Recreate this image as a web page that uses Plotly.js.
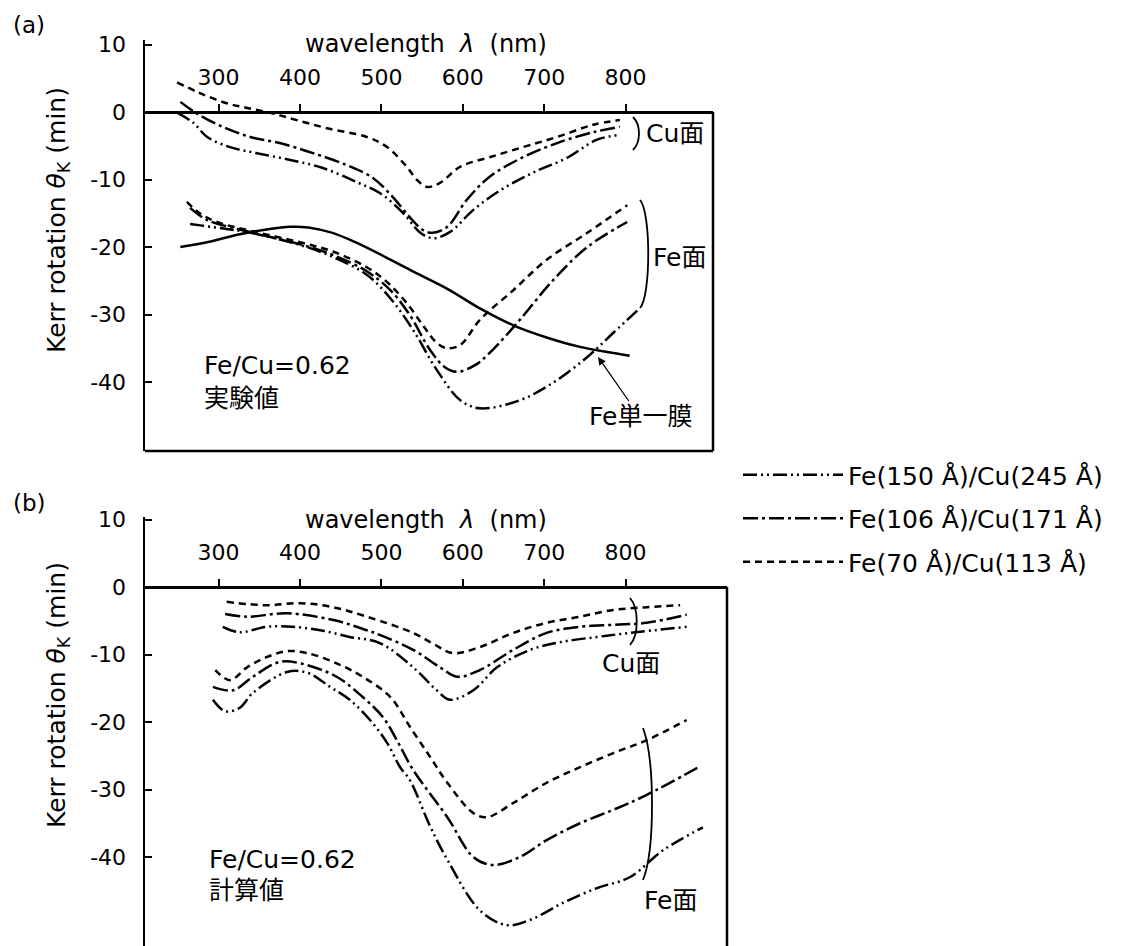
<!DOCTYPE html>
<html><head><meta charset="utf-8">
<script src="https://cdn.plot.ly/plotly-3.0.1.min.js"></script>
<style>html,body{margin:0;padding:0;background:#fff;}#chart{width:1140px;height:946px;}</style>
</head><body><div id="chart"></div>
<script>
// ---------- tick labels ----------
const wlTicks = [300, 400, 500, 600, 700, 800];
const kTickVals = [10, 0, -10, -20, -30, -40];
const kTickText = ['10', '0', '-10', '-20', '-30', '-40'];

// ---------- series names ----------
const nameFe150 = 'Fe(150 Å)/Cu(245 Å)';
const nameFe106 = 'Fe(106 Å)/Cu(171 Å)';
const nameFe70  = 'Fe(70 Å)/Cu(113 Å)';

// ---------- (a) experimental ----------
// Cu side
const aCu70wl  = [249, 277, 310, 335, 366, 396, 433, 482, 507, 531, 544, 556, 572, 597, 633, 674, 716, 760, 793];
const aCu70k   = [4.4, 2.8, 1.3, 0.6, -0.2, -1.2, -2.4, -3.7, -5.2, -8.1, -10.1, -11.1, -10.5, -8.1, -6.7, -5.2, -3.7, -1.9, -1.2];
const aCu106wl = [253, 273, 305, 339, 375, 416, 458, 490, 514, 535, 551, 563, 581, 605, 633, 674, 716, 760, 793];
const aCu106k  = [1.5, -0.2, -2.2, -3.7, -4.6, -6.1, -7.9, -9.8, -12.6, -15.6, -17.5, -17.9, -17.0, -13.0, -9.6, -6.7, -4.6, -3.0, -2.2];
const aCu150wl = [249, 269, 286, 314, 347, 388, 428, 470, 498, 527, 547, 563, 584, 613, 646, 686, 728, 765, 793];
const aCu150k  = [-0.1, -1.6, -3.7, -5.2, -6.1, -7.1, -8.3, -10.4, -12.0, -15.0, -17.8, -18.7, -17.8, -14.5, -11.6, -9.0, -6.8, -4.1, -3.4];
// Fe side
const aFe70wl  = [261, 277, 298, 339, 400, 441, 482, 507, 531, 551, 568, 581, 597, 621, 662, 703, 753, 802];
const aFe70k   = [-13.3, -15.0, -16.3, -17.6, -19.3, -20.7, -23.0, -25.2, -28.3, -31.6, -34.2, -35.0, -34.5, -30.8, -26.4, -21.9, -17.9, -13.8];
const aFe106wl = [265, 286, 339, 400, 441, 482, 511, 535, 560, 578, 593, 615, 633, 670, 711, 753, 802];
const aFe106k  = [-14.2, -16.0, -17.8, -19.6, -21.2, -23.6, -26.4, -30.1, -35.3, -37.8, -38.5, -37.5, -35.7, -30.8, -24.9, -20.0, -16.3];
const aFe150wl = [265, 302, 339, 400, 441, 482, 511, 539, 568, 597, 621, 670, 711, 753, 785, 818];
const aFe150k  = [-16.6, -17.2, -17.9, -19.7, -21.5, -24.1, -27.6, -32.3, -38.2, -42.7, -43.9, -42.7, -40.1, -36.3, -32.7, -29.0];
// Fe single film
const aFeSingleWl = [253, 293, 326, 359, 388, 410, 440, 470, 505, 540, 581, 621, 662, 703, 744, 785, 805];
const aFeSingleK  = [-20.0, -19.1, -18.1, -17.4, -17.0, -17.1, -17.9, -19.4, -21.5, -23.7, -26.2, -29.1, -31.6, -33.4, -34.8, -35.7, -36.1];

// ---------- (b) calculated ----------
const bCu70wl  = [310, 359, 400, 441, 482, 539, 565, 588, 621, 662, 703, 744, 785, 826, 867];
const bCu70k   = [-2.2, -2.7, -2.4, -3.0, -4.4, -6.8, -8.5, -9.8, -8.9, -6.8, -5.3, -4.4, -3.4, -3.0, -2.7];
const bCu106wl = [308, 335, 384, 441, 482, 498, 539, 572, 593, 621, 662, 703, 744, 785, 826, 875];
const bCu106k  = [-4.0, -4.4, -3.9, -4.9, -6.4, -7.1, -9.3, -11.9, -13.3, -12.3, -9.3, -6.8, -5.9, -5.6, -5.3, -4.1];
const bCu150wl = [305, 326, 359, 391, 425, 461, 498, 539, 568, 584, 613, 642, 683, 723, 765, 805, 875];
const bCu150k  = [-5.9, -6.7, -5.9, -5.9, -6.4, -7.4, -8.3, -11.9, -15.3, -16.7, -15.3, -11.9, -9.3, -8.1, -7.4, -6.8, -5.9];
const bFe70wl  = [296, 314, 335, 359, 384, 409, 445, 477, 511, 535, 560, 581, 613, 630, 662, 703, 744, 785, 826, 875];
const bFe70k   = [-12.3, -13.8, -11.9, -10.4, -9.5, -9.8, -11.3, -13.3, -16.3, -20.7, -25.2, -29.0, -33.5, -34.1, -32.0, -29.0, -26.7, -24.6, -22.7, -19.7];
const bFe106wl = [293, 318, 342, 375, 400, 445, 477, 502, 519, 539, 581, 613, 637, 670, 703, 744, 785, 826, 888];
const bFe106k  = [-14.8, -15.3, -13.3, -11.1, -11.3, -13.3, -16.3, -19.3, -22.7, -27.1, -34.1, -40.0, -41.2, -40.0, -37.5, -35.0, -33.0, -30.8, -26.8];
const bFe150wl = [293, 308, 326, 342, 384, 409, 437, 461, 486, 507, 523, 535, 560, 581, 621, 654, 683, 723, 765, 805, 846, 895];
const bFe150k  = [-16.7, -18.4, -17.9, -15.7, -12.6, -12.7, -14.8, -16.7, -19.7, -23.1, -26.7, -28.6, -35.5, -40.4, -47.9, -50.1, -49.3, -46.8, -44.6, -43.0, -39.0, -35.6];

// ---------- styling ----------
const W = 1140, H = 946;
const fx = p => p / W;
const fy = p => 1 - p / H;
const FONT = 'DejaVu Sans, Noto Sans CJK JP, sans-serif';
const LW = 2.5;
const dash150 = '14px,4px,2px,4px,2px,4px';
const dash106 = '15px,4px,3px,4px';
const dash70  = '7px,5px';

function join(wl1, k1, wl2, k2) {
  return { x: wl1.concat([null], wl2), y: k1.concat([null], k2) };
}
function tr(d, xa, ya, name, dash, rank, show) {
  return {
    type: 'scatter', mode: 'lines', x: d.x, y: d.y, xaxis: xa, yaxis: ya,
    name: name, legendgroup: name, legendrank: rank, showlegend: show,
    connectgaps: false,
    line: { color: '#000', width: LW, dash: dash, shape: 'spline', smoothing: 1 },
    hoverinfo: 'skip'
  };
}

const traces = [
  tr(join(aCu150wl, aCu150k, aFe150wl, aFe150k), 'x', 'y', nameFe150, dash150, 1, false),
  tr(join(aCu106wl, aCu106k, aFe106wl, aFe106k), 'x', 'y', nameFe106, dash106, 2, false),
  tr(join(aCu70wl, aCu70k, aFe70wl, aFe70k), 'x', 'y', nameFe70, dash70, 3, false),
  { type: 'scatter', mode: 'lines', x: aFeSingleWl, y: aFeSingleK, xaxis: 'x', yaxis: 'y',
    showlegend: false, line: { color: '#000', width: LW, shape: 'spline', smoothing: 1 }, hoverinfo: 'skip' },
  tr(join(bCu150wl, bCu150k, bFe150wl, bFe150k), 'x2', 'y2', nameFe150, dash150, 1, true),
  tr(join(bCu106wl, bCu106k, bFe106wl, bFe106k), 'x2', 'y2', nameFe106, dash106, 2, true),
  tr(join(bCu70wl, bCu70k, bFe70wl, bFe70k), 'x2', 'y2', nameFe70, dash70, 3, true)
];

// geometry (pixels)
const SCALE = 6.75;           // px per minute
const plotL = 145;
const aTop = 40, aZero = 112, aBot = 451, aRight = 713;
const bTop = 517, bZero = 587, bBot = 946, bRight = 727;
const wlAt = p => 400 + (p - 300) / 0.814;

function xAxis(right, zeroPx) {
  return {
    domain: [fx(plotL), fx(right)], range: [wlAt(plotL), wlAt(right)],
    anchor: 'free', position: fy(zeroPx), side: 'top',
    tickmode: 'array', tickvals: wlTicks, ticktext: wlTicks.map(String),
    ticks: 'outside', ticklen: 7, tickwidth: 2, tickcolor: '#000',
    showline: true, linecolor: '#000', linewidth: 2.5,
    showgrid: false, zeroline: false, ticklabelstandoff: 10,
    tickfont: { family: FONT, size: 22, color: '#000' }
  };
}
function yAxis(top, zero, bot, xa) {
  return {
    domain: [fy(bot), fy(top)], range: [(zero - bot) / SCALE, (zero - top) / SCALE],
    anchor: xa, tickmode: 'array', tickvals: kTickVals, ticktext: kTickText,
    ticks: 'inside', ticklen: 7, tickwidth: 2, tickcolor: '#000',
    showline: true, linecolor: '#000', linewidth: 2.5,
    showgrid: false, zeroline: false, ticklabelstandoff: 12,
    tickfont: { family: FONT, size: 22, color: '#000' }
  };
}

function txt(text, x, y, size, anchor, extra) {
  return Object.assign({
    text: text, xref: 'paper', yref: 'paper', x: fx(x), y: fy(y),
    xanchor: anchor || 'left', yanchor: 'middle', showarrow: false,
    font: { family: FONT, size: size, color: '#000' }
  }, extra || {});
}
const P = (x, y) => fx(x) + ',' + fy(y);
function seg(x0, y0, x1, y1) {
  return { type: 'line', xref: 'paper', yref: 'paper', x0: fx(x0), y0: fy(y0), x1: fx(x1), y1: fy(y1),
           line: { color: '#000', width: 2.5 } };
}
function brace(x0, y0, c1x, c1y, c2x, c2y, x1, y1) {
  return { type: 'path', xref: 'paper', yref: 'paper',
           path: 'M' + P(x0, y0) + ' C' + P(c1x, c1y) + ' ' + P(c2x, c2y) + ' ' + P(x1, y1),
           line: { color: '#000', width: 1.8 } };
}

const layout = {
  width: W, height: H, margin: { l: 0, r: 0, t: 0, b: 0 },
  paper_bgcolor: '#fff', plot_bgcolor: 'rgba(0,0,0,0)',
  font: { family: FONT, color: '#000' },
  xaxis: xAxis(aRight, aZero),
  yaxis: yAxis(aTop, aZero, aBot, 'x'),
  xaxis2: xAxis(bRight, bZero),
  yaxis2: yAxis(bTop, bZero, bBot, 'x2'),
  showlegend: true,
  legend: {
    x: fx(738), y: fy(452), xanchor: 'left', yanchor: 'top',
    traceorder: 'grouped', tracegroupgap: 8, itemwidth: 100,
    bgcolor: 'rgba(0,0,0,0)', font: { family: FONT, size: 25, color: '#000' }
  },
  shapes: [
    seg(aRight, aZero, aRight, aBot), seg(plotL, aBot, aRight, aBot),
    seg(bRight, bZero, bRight, bBot),
    brace(633, 117, 641, 125, 641, 142, 633, 150),
    brace(640, 200, 651, 212, 651, 296, 640, 308),
    brace(630, 598, 639, 608, 639, 635, 630, 645),
    brace(643, 728, 655, 760, 655, 850, 643, 880)
  ],
  annotations: [
    txt('(a)', 11, 25, 23),
    txt('(b)', 11, 503, 23),
    txt('wavelength\u00a0\u00a0<i>λ</i>\u00a0\u00a0(nm)', 426, 44, 24, 'center'),
    txt('wavelength\u00a0\u00a0<i>λ</i>\u00a0\u00a0(nm)', 426, 520, 24, 'center'),
    txt('Kerr rotation <i>θ</i><sub>K</sub> (min)', 58, 220, 25, 'center', { textangle: -90 }),
    txt('Kerr rotation <i>θ</i><sub>K</sub> (min)', 58, 695, 25, 'center', { textangle: -90 }),
    txt('Cu面', 644, 133, 25),
    txt('Fe面', 651, 257, 25),
    txt('Fe/Cu=0.62', 202, 366, 25),
    txt('実験値', 202, 398, 25),
    { text: 'Fe単一膜', xref: 'paper', yref: 'paper', x: fx(598), y: fy(357),
      ax: 42, ay: 60, showarrow: true, arrowhead: 2, arrowsize: 1.2, arrowwidth: 1.3,
      arrowcolor: '#000', standoff: 0, font: { family: FONT, size: 25, color: '#000' } },
    txt('Cu面', 600, 663, 25),
    txt('Fe面', 642, 900, 25),
    txt('Fe/Cu=0.62', 207, 859, 25),
    txt('計算値', 207, 890, 25)
  ]
};

Plotly.newPlot('chart', traces, layout, { staticPlot: true, displayModeBar: false });
</script>
</body></html>
